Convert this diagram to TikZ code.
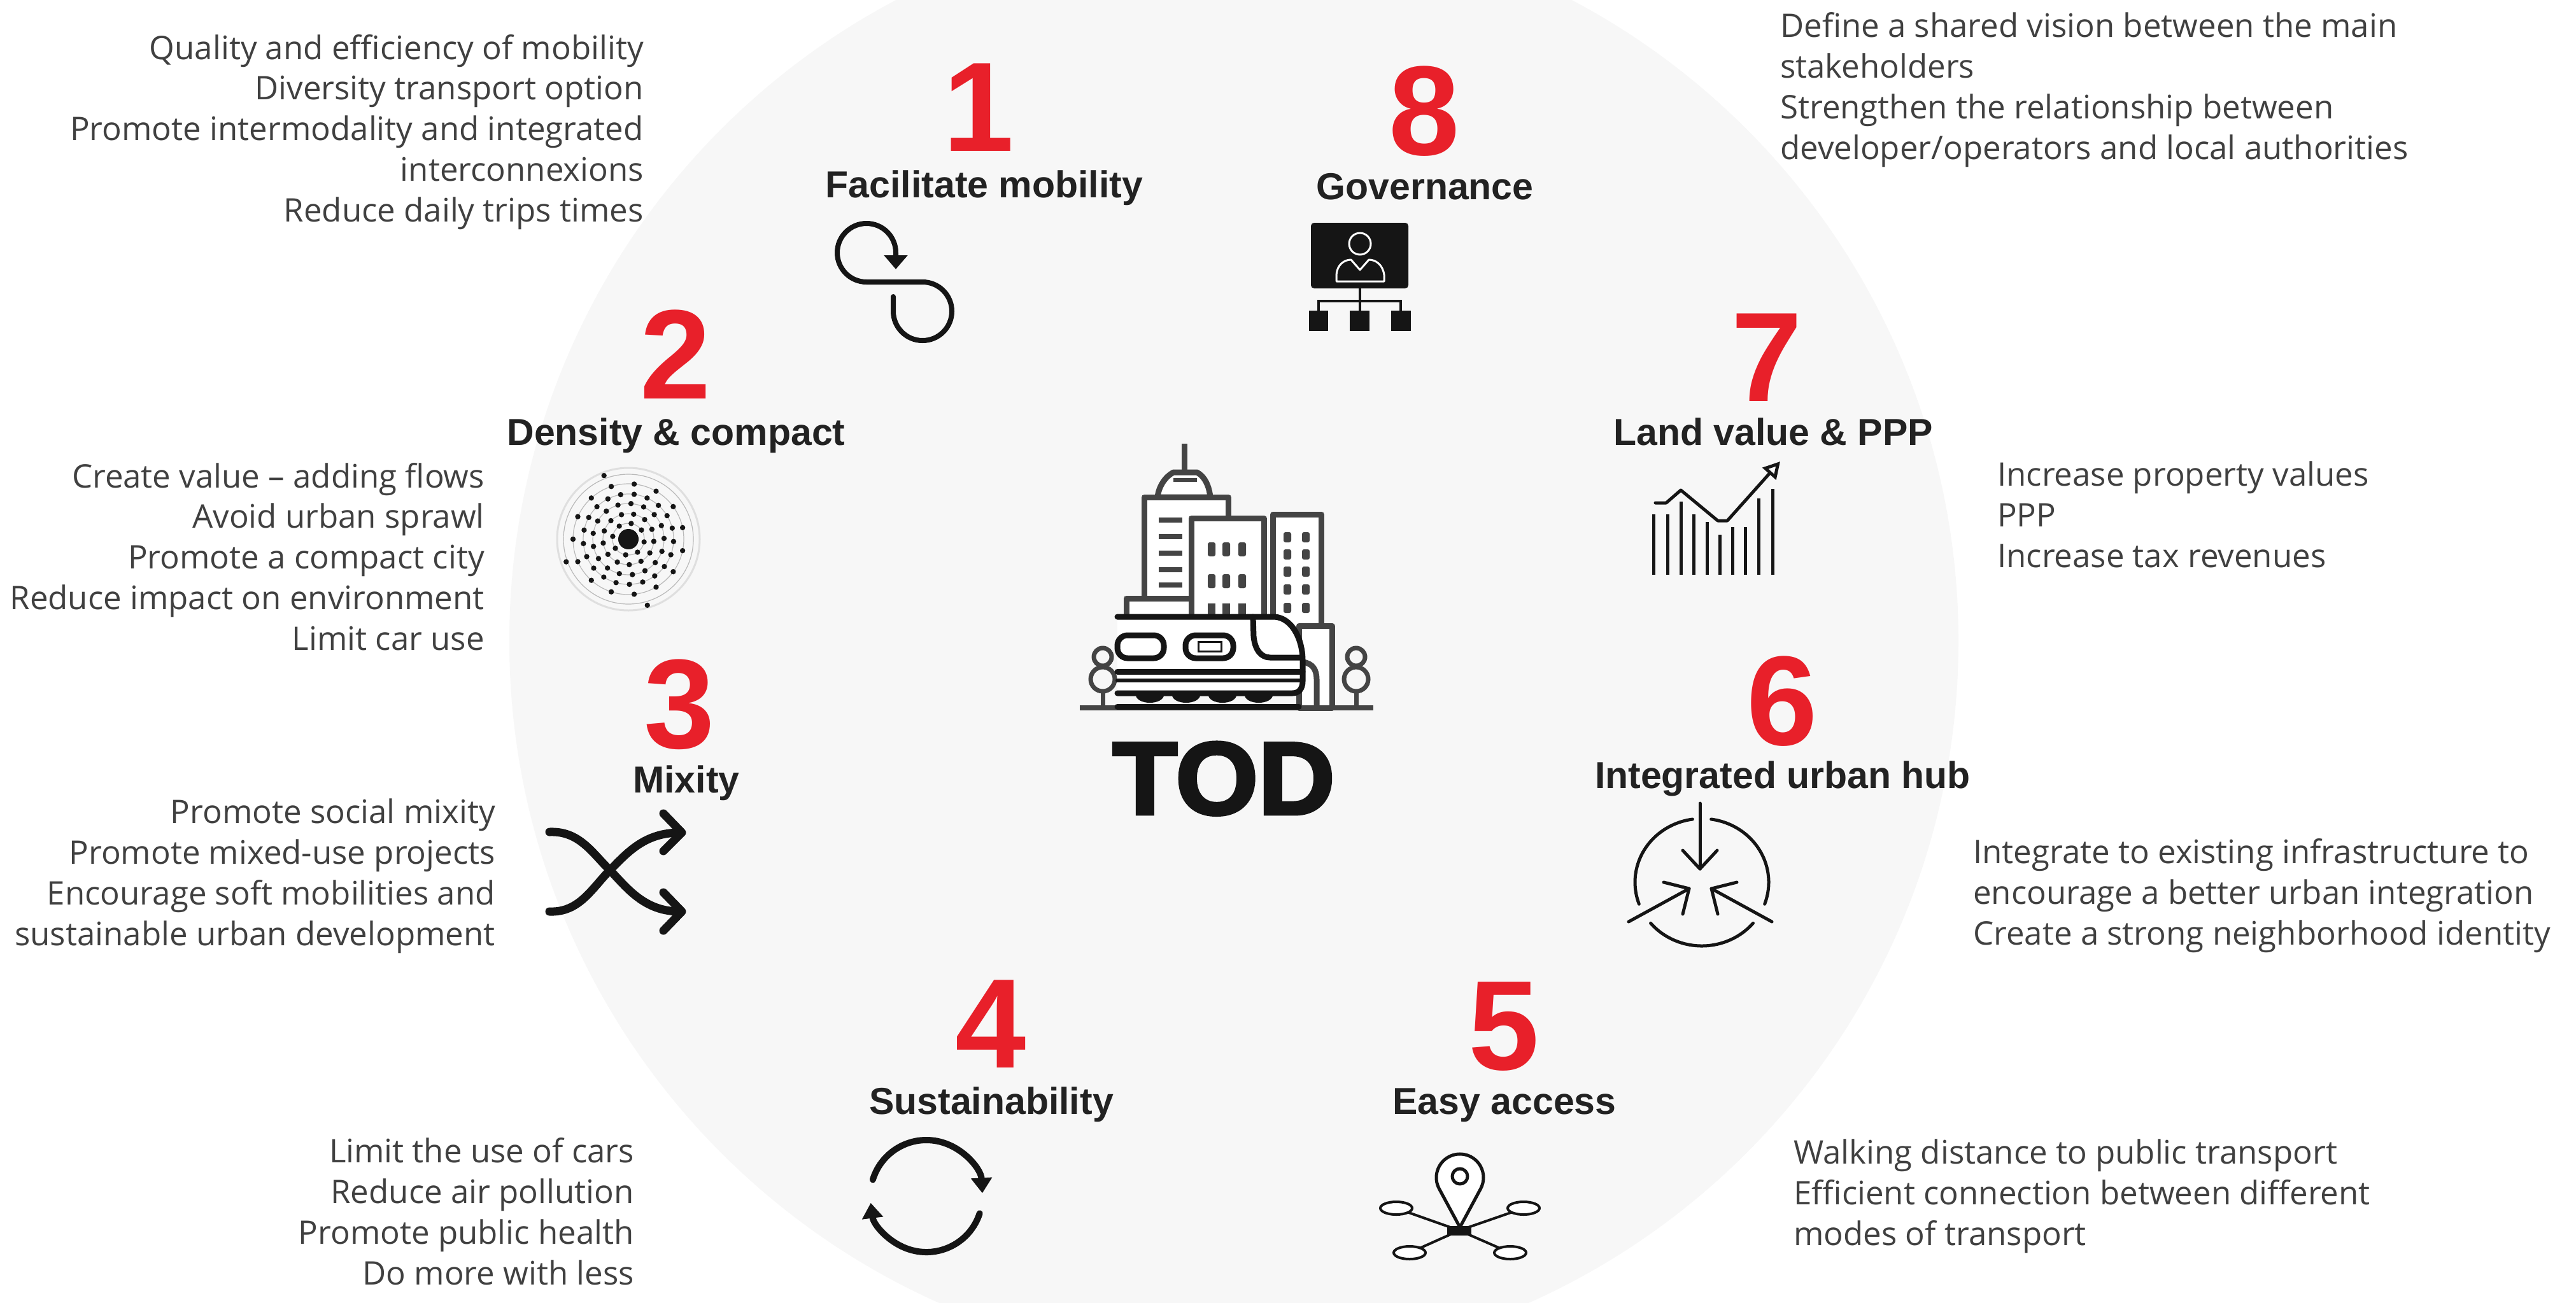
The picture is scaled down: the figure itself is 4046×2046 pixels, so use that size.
\documentclass[tikz,border=0pt]{standalone}
\usepackage{fontspec}
\setmainfont{Open Sans}
\newfontfamily\headfont{Liberation Sans}
\newfontfamily\todfont{Liberation Sans}[BoldFeatures={FakeBold=3}]
\usetikzlibrary{arrows.meta}

\definecolor{bgdisc}{HTML}{F7F7F7}
\definecolor{numred}{HTML}{E8202A}
\definecolor{headink}{HTML}{222222}
\definecolor{bodyink}{HTML}{404040}
\definecolor{iconink}{HTML}{151515}
\definecolor{cityink}{HTML}{444444}

\tikzset{
  numlabel/.style={font=\headfont\bfseries\fontsize{200}{200}\selectfont, text=numred, inner sep=0pt, anchor=base},
  headlabel/.style={font=\headfont\bfseries\fontsize{59}{60}\selectfont, text=headink, inner sep=0pt, anchor=base},
  % multi-line blocks are placed by the baseline of their last line
  leftblock/.style={font=\fontsize{51}{63.7}\selectfont, text=bodyink, align=right, anchor=base east, inner sep=0pt},
  rightblock/.style={font=\fontsize{51}{63.7}\selectfont, text=bodyink, align=left, anchor=base west, inner sep=0pt},
  iconline/.style={draw=iconink, line cap=round, line join=round},
  cityline/.style={draw=cityink, line width=9pt, line join=round},
  trainline/.style={draw=iconink, line width=9pt, line join=round, line cap=round},
}

\begin{document}
\begin{tikzpicture}[x=1pt, y=-1pt]
\useasboundingbox (0,0) rectangle (4046,2046);
\fill[white] (0,0) rectangle (4046,2046);

% background disc
\fill[bgdisc] (1938,1007) circle (1138);

% ---------- numbers ----------
\node[numlabel] (n1) at (1537,237) {1};
\node[numlabel] (n8) at (2237,243) {8};
\node[numlabel] (n2) at (1061,626) {2};
\node[numlabel] (n7) at (2775,630) {7};
\node[numlabel] (n3) at (1067,1175) {3};
\node[numlabel] (n6) at (2799,1170) {6};
\node[numlabel] (n4) at (1556,1677) {4};
\node[numlabel] (n5) at (2362,1680) {5};

% ---------- headings ----------
\node[headlabel] (h1) at (1546,310) {Facilitate mobility};
\node[headlabel] (h8) at (2238,313) {Governance};
\node[headlabel] (h2) at (1062,699) {Density \& compact};
\node[headlabel] (h7) at (2785,699) {Land value \& PPP};
\node[headlabel] (h3) at (1078,1245) {Mixity};
\node[headlabel] (h6) at (2800,1238) {Integrated urban hub};
\node[headlabel] (h4) at (1557,1750) {Sustainability};
\node[headlabel] (h5) at (2363,1750) {Easy access};

% ---------- descriptions ----------
\node[leftblock] (t1) at (1011,348) {Quality and efficiency of mobility\\Diversity transport option\\Promote intermodality and integrated\\interconnexions\\Reduce daily trips times};
\node[leftblock] (t2) at (761,1021) {Create value – adding flows\\Avoid urban sprawl\\Promote a compact city\\Reduce impact on environment\\Limit car use};
\node[leftblock] (t3) at (778,1485) {Promote social mixity\\Promote mixed-use projects\\Encourage soft mobilities and\\sustainable urban development};
\node[leftblock] (t4) at (996,2018) {Limit the use of cars\\Reduce air pollution\\Promote public health\\Do more with less};
\node[rightblock] (t8) at (2796,250) {Define a shared vision between the main\\stakeholders\\Strengthen the relationship between\\developer/operators and local authorities};
\node[rightblock] (t7) at (3137,891) {Increase property values\\PPP\\Increase tax revenues};
\node[rightblock] (t6) at (3099,1484) {Integrate to existing infrastructure to\\encourage a better urban integration\\Create a strong neighborhood identity};
\node[rightblock] (t5) at (2817,1956) {Walking distance to public transport\\Efficient connection between different\\modes of transport};

% ---------- icon 1: looping arrow ----------
\draw[iconline, line width=8pt, -{Triangle[length=22pt,width=36pt]}]
  (1403,466) -- (1403,489) arc[start angle=180, end angle=-90, radius=46]
  -- (1361,443) arc[start angle=90, end angle=360, radius=46] -- (1407,423);

% ---------- icon 8: governance ----------
\fill[iconink, rounded corners=5pt] (2059,350) rectangle (2212,453);
\draw[white, line width=3pt] (2136,383) circle (17);
\draw[white, line width=3pt, line join=round]
  (2099,442) -- (2099,432) .. controls (2100,416) and (2111,408) .. (2122,408)
  -- (2136,424) -- (2150,408) .. controls (2161,408) and (2172,416) .. (2174,432)
  -- (2174,442) -- cycle;
\draw[iconink, line width=4pt] (2136,453) -- (2136,488);
\draw[iconink, line width=4pt] (2071,490) -- (2071,473) -- (2200,473) -- (2200,490);
\fill[iconink] (2056,488) rectangle (2086,520);
\fill[iconink] (2120,488) rectangle (2151,520);
\fill[iconink] (2185,488) rectangle (2216,520);

% ---------- icon 2: density rings ----------
\begin{scope}[shift={(987,847)}]
  \draw[gray!25, line width=3pt] (0,0) circle (112);
  \foreach \r in {25,40,56,71,87,102} \draw[gray!55, line width=1.2pt] (0,0) circle (\r);
  \fill[iconink] (0,0) circle (16);
  \foreach \r/\n/\o in {25/8/10, 40/13/5, 56/17/20, 71/21/3, 87/15/12} {
    \foreach \k in {1,...,\n} \fill[iconink] ({\o+\k*360/\n}:\r) circle (4.2);
  }
  \fill[iconink] (249:107) circle (4.2);
  \fill[iconink] (74:108) circle (4.2);
  \fill[iconink] (160:104) circle (4.2);
\end{scope}

% ---------- icon 7: rising chart ----------
\foreach \x/\t in {2597/808, 2619/808, 2640/788, 2660/808, 2681/820, 2701/840, 2721/828, 2741/828, 2762/783, 2784/768}
  \draw[iconink, line width=5pt] (\x,903) -- (\x,\t);
\draw[iconline, line width=5pt, -{Triangle[open, length=26pt, width=28pt]}]
  (2600,790) -- (2617,790) -- (2640,770) -- (2698,818) -- (2713,818) -- (2796,725);

% ---------- icon 3: crossing arrows ----------
\draw[iconline, line width=13pt]
  (863,1307) .. controls (910,1305) and (930,1340) .. (958,1367)
  .. controls (985,1395) and (1012,1432) .. (1068,1432);
\draw[iconline, line width=13pt]
  (863,1432) .. controls (910,1434) and (930,1395) .. (958,1367)
  .. controls (985,1340) and (1012,1308) .. (1068,1308);
\draw[iconline, line width=13pt] (1042,1278) -- (1071,1308) -- (1042,1337);
\draw[iconline, line width=13pt] (1042,1402) -- (1071,1432) -- (1042,1462);

% ---------- icon 6: converging arrows ----------
\begin{scope}[iconline, line width=5pt]
  \draw (2673,1386) ++(262:105 and 100) arc[start angle=262, end angle=160, x radius=105, y radius=100];
  \draw (2673,1386) ++(278:105 and 100) arc[start angle=278, end angle=380, x radius=105, y radius=100];
  \draw (2673,1386) ++(140:105 and 100) arc[start angle=140, end angle=40, x radius=105, y radius=100];
  \draw (2670,1262) -- (2670,1365);
  \draw (2643,1336) -- (2670,1365) -- (2697,1336);
  \draw (2558,1448) -- (2653,1396);
  \draw (2613,1386) -- (2653,1396) -- (2643,1436);
  \draw (2783,1448) -- (2688,1396);
  \draw (2728,1386) -- (2688,1396) -- (2698,1436);
\end{scope}

% ---------- icon 4: cycle arrows ----------
\draw[iconline, line width=10pt, -{Triangle[length=24pt,width=32pt]}]
  (1455,1879) ++(197:88) arc[start angle=197, end angle=357, radius=88];
\draw[iconline, line width=10pt, -{Triangle[length=24pt,width=32pt]}]
  (1455,1879) ++(18:88) arc[start angle=18, end angle=173, radius=88];

% ---------- icon 5: location hub ----------
\begin{scope}[iconline, line width=4pt]
  \draw (2292,1933) -- (2193,1898);
  \draw (2292,1933) -- (2393,1898);
  \draw (2292,1933) -- (2214,1968);
  \draw (2292,1933) -- (2372,1968);
  \filldraw[fill=white] (2193,1898) ellipse (25 and 10);
  \filldraw[fill=white] (2393,1898) ellipse (25 and 10);
  \filldraw[fill=white] (2214,1968) ellipse (25 and 10);
  \filldraw[fill=white] (2372,1968) ellipse (25 and 10);
  \fill[iconink] (2273,1926) rectangle (2311,1941);
  \filldraw[fill=white, line width=5pt] (2293,1928) -- (2260.4,1867.5)
    arc[start angle=151.7, end angle=388.3, radius=37] -- cycle;
  \draw[line width=5pt] (2293,1848) circle (12);
\end{scope}

% ---------- centre: city and train ----------
\draw[cityline] (1860,697) -- (1860,742);
\filldraw[cityline, fill=white] (1818,781) .. controls (1820,764) and (1830,749) .. (1843,742)
  -- (1880,742) .. controls (1893,749) and (1899,764) .. (1901,781) -- cycle;
\draw[cityline, line width=6pt] (1843,754) -- (1880,754);
\filldraw[cityline, fill=white] (1797,781) rectangle (1929,950);
\foreach \y in {817,843,869,895,919} \draw[cityink, line width=8pt] (1820,\y) -- (1857,\y);
\filldraw[cityline, fill=white] (1769,940) rectangle (1872,980);
\filldraw[cityline, fill=white] (1871,814) rectangle (1985,980);
\foreach \x in {1903,1926,1951} {
  \fill[cityink, rounded corners=3pt] (\x-6,852) rectangle (\x+6,874);
  \fill[cityink, rounded corners=3pt] (\x-6,902) rectangle (\x+6,924);
  \fill[cityink] (\x-6,948) rectangle (\x+6,972);
}
\filldraw[cityline, fill=white] (1999,808) rectangle (2075,990);
\foreach \x in {2022,2051} \foreach \y in {844,871,898,926,955}
  \fill[cityink, rounded corners=3pt] (\x-6,\y-8) rectangle (\x+6,\y+8);
\filldraw[cityline, fill=white] (2040,983) rectangle (2092,1112);
% ground and trees
\draw[cityink, line width=8pt] (1696,1112) -- (2157,1112);
\foreach \tx in {1732,2130} {
  \draw[cityink, line width=7pt] (\tx,1032) circle (14);
  \draw[cityink, line width=7pt] (\tx,1067) circle (19);
  \draw[cityink, line width=7pt] (\tx,1086) -- (\tx,1112);
}
% train
\fill[white] (1755,969) -- (2002,969) .. controls (2030,971) and (2046,1005) .. (2046,1038)
  -- (2046,1070) .. controls (2046,1082) and (2040,1089) .. (2030,1089) -- (1755,1089) -- cycle;
\draw[cityline] (2046,1040) .. controls (2062,1042) and (2068,1052) .. (2068,1068) -- (2068,1112);
\draw[trainline] (1755,969) -- (2002,969) .. controls (2030,971) and (2046,1005) .. (2046,1038)
  -- (2046,1070) .. controls (2046,1082) and (2040,1089) .. (2030,1089) -- (1755,1089);
\draw[trainline] (1968,969) -- (1969,1000) .. controls (1971,1020) and (1980,1033) .. (1995,1033) -- (2044,1033);
\draw[trainline] (1755,1055) -- (2046,1055);
\draw[trainline, line width=6pt] (1755,1069) -- (2046,1069);
\draw[trainline, rounded corners=16pt] (1755,998) rectangle (1828,1034);
\draw[trainline, rounded corners=16pt] (1862,998) rectangle (1937,1034);
\draw[iconink, line width=3pt] (1882,1008) rectangle (1918,1023);
\foreach \x in {1806,1863,1920,1977}
  \fill[iconink] (\x-22,1092) arc[start angle=180, end angle=0, x radius=22, y radius=12] -- cycle;
\draw[trainline] (1755,1110) -- (2040,1110);

% TOD lettering
\node[font=\todfont\bfseries\fontsize{162}{162}\selectfont, text=iconink, inner sep=0pt, anchor=base]
  (tod) at (1922,1279) {\scalebox{1.03}[1]{TOD}};
\end{tikzpicture}
\end{document}
